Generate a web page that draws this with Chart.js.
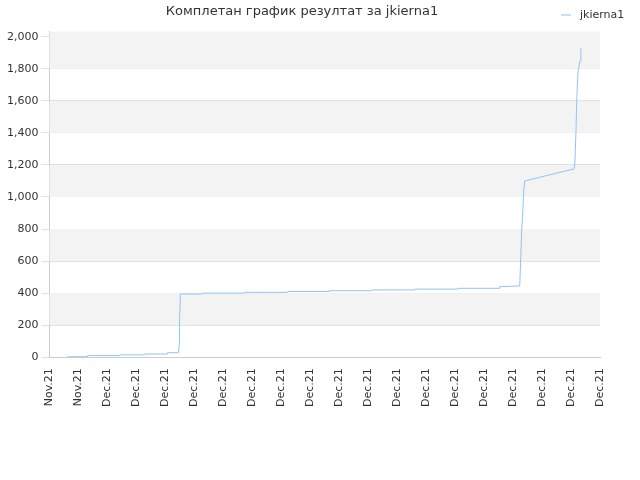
<!DOCTYPE html><html><head><meta charset="utf-8">
<script src="https://cdn.jsdelivr.net/npm/chart.js@4"></script>
<style>html,body{margin:0;background:#fff}#w{width:640px;height:480px}</style></head><body><div id="w"><canvas id="c"></canvas></div>
<script>
const xLabels=["Nov.21","Nov.21","Dec.21","Dec.21","Dec.21","Dec.21","Dec.21","Dec.21","Dec.21","Dec.21","Dec.21","Dec.21","Dec.21","Dec.21","Dec.21","Dec.21","Dec.21","Dec.21","Dec.21","Dec.21"];
const yTicks=[0,200,400,600,800,1000,1200,1400,1600,1800,2000];
const xs=[0.62,1.31,1.31,2.42,2.42,3.28,3.28,4.07,4.07,4.45,4.49,4.49,4.52,5.28,5.28,6.73,6.73,8.22,8.22,9.67,9.67,11.12,11.12,12.61,12.61,14.09,14.09,15.54,15.54,16.23,16.26,16.30,16.33,16.37,16.40,18.10,18.13,18.17,18.20,18.24,18.31,18.34];
const ys=[3,3,10,10,15,15,20,20,28,28,100,240,395,395,400,400,405,405,410,410,415,415,420,420,425,425,430,430,440,445,600,800,880,1050,1100,1175,1200,1400,1620,1780,1850,1930];
const bands={id:'bands',beforeDatasetsDraw(ch){const {ctx,chartArea:a,scales:{y}}=ch;ctx.save();ctx.fillStyle='#f3f3f3';
for(const [lo,hi] of [[200,400],[600,800],[1000,1200],[1400,1600],[1800,2032]]){const t=y.getPixelForValue(hi),b=y.getPixelForValue(lo);ctx.fillRect(a.left,t,a.right-a.left,b-t);}ctx.restore();}};
new Chart(document.getElementById('c'),{type:'line',
data:{datasets:[{label:'jkierna1',data:xs.map((x,i)=>({x,y:ys[i]})),borderColor:'#90c4f5',backgroundColor:'#90c4f5',borderWidth:1,pointRadius:0,tension:0}]},
options:{responsive:true,maintainAspectRatio:false,animation:false,
layout:{padding:{left:4,right:40,top:0,bottom:70}},
plugins:{title:{display:true,text:'Комплетан график резултат за jkierna1',color:'#333',font:{family:'DejaVu Sans',size:13,weight:'normal'},padding:{top:4,bottom:12}},
legend:{display:false}},
scales:{x:{type:'linear',min:0,max:19,afterBuildTicks:s=>{s.ticks=xLabels.map((_,i)=>({value:i}));},ticks:{autoSkip:false,maxRotation:90,minRotation:90,color:'#333',font:{family:'DejaVu Sans',size:11},callback:v=>xLabels[v]},grid:{display:false},border:{color:'#ccc'}},
y:{min:0,max:2032,afterBuildTicks:s=>{s.ticks=yTicks.map(v=>({value:v}));},ticks:{autoSkip:false,color:'#333',font:{family:'DejaVu Sans',size:11}},grid:{color:'#e0e0e0'},border:{color:'#ccc'}}}},
plugins:[bands,{id:'leg',afterDraw(ch){const c=ch.ctx;c.save();c.strokeStyle='#90c4f5';c.lineWidth=1;c.beginPath();c.moveTo(561,15);c.lineTo(571,15);c.stroke();c.fillStyle='#333';c.font='11px DejaVu Sans';c.textBaseline='middle';c.fillText('jkierna1',580,15);c.restore();}}]});
</script></body></html>
